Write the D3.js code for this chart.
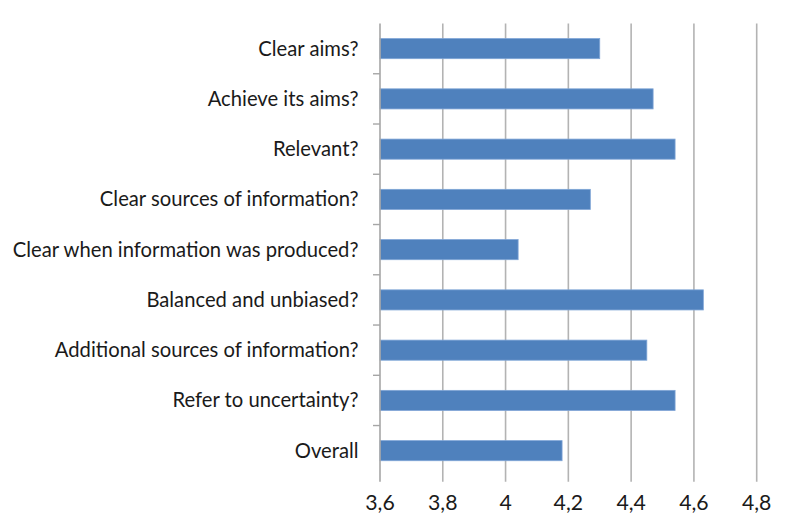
<!DOCTYPE html>
<html>
<head>
<meta charset="utf-8">
<script src="https://cdn.jsdelivr.net/npm/d3@7"></script>
<style>
  html, body { margin: 0; padding: 0; background: #fff; }
  svg { display: block; }
  text { font-family: Lato, "Open Sans", sans-serif; fill: #1a1a1a; }
</style>
</head>
<body>
<svg id="chart" width="789" height="520"></svg>
<script>
const categories = [
  "Clear aims?",
  "Achieve its aims?",
  "Relevant?",
  "Clear sources of information?",
  "Clear when information was produced?",
  "Balanced and unbiased?",
  "Additional sources of information?",
  "Refer to uncertainty?",
  "Overall"
];
const values = [4.30, 4.47, 4.54, 4.27, 4.04, 4.63, 4.45, 4.54, 4.18];
const xTicks = [3.6, 3.8, 4.0, 4.2, 4.4, 4.6, 4.8];
const xDomain = [3.6, 4.8];

(function () {
const svg = d3.select("#chart");
const pLeft = 380, pRight = 756.7, pTop = 23.5, pBottom = 475.8;

const x = d3.scaleLinear().domain(xDomain).range([pLeft, pRight]);
const y = d3.scaleBand().domain(categories).range([pTop, pBottom])
  .paddingInner(0.6).paddingOuter(0.3);

// vertical gridlines (extending below as tick marks)
svg.append("g").selectAll("line").data(xTicks.slice(1)).join("line")
  .attr("x1", d => x(d)).attr("x2", d => x(d))
  .attr("y1", pTop).attr("y2", pBottom + 6)
  .attr("stroke", "#b3b3b3").attr("stroke-width", 1.6);

// bars
svg.append("g").selectAll("rect").data(values).join("rect")
  .attr("x", x(xDomain[0]))
  .attr("y", (d, i) => y(categories[i]))
  .attr("width", d => x(d) - x(xDomain[0]))
  .attr("height", y.bandwidth())
  .attr("fill", "#4f81bd")
  .attr("stroke", "#7fa5d6").attr("stroke-width", 0.8);

// left axis line
svg.append("line")
  .attr("x1", pLeft).attr("x2", pLeft).attr("y1", pTop).attr("y2", pBottom + 6)
  .attr("stroke", "#a6a6a6").attr("stroke-width", 1.6);

// category ticks (inner boundaries)
const step = y.step();
svg.append("g").selectAll("line").data(categories.slice(1)).join("line")
  .attr("x1", pLeft - 7).attr("x2", pLeft)
  .attr("y1", d => y(d) - step * 0.3).attr("y2", d => y(d) - step * 0.3)
  .attr("stroke", "#a6a6a6").attr("stroke-width", 1.4);

// category labels
const labels = svg.append("g").selectAll("text").data(categories).join("text")
  .attr("x", 358.5)
  .attr("y", d => y(d) + y.bandwidth() / 2)
  .attr("dy", "0.35em")
  .attr("text-anchor", "end")
  .style("font-size", "17px")
  .text(d => d);

// fit widest label to ~346px
let maxW = 0;
labels.each(function() { maxW = Math.max(maxW, this.getComputedTextLength()); });
const fs = 17 * 346 / maxW;
labels.style("font-size", fs + "px");

// x tick labels
svg.append("g").selectAll("text").data(xTicks).join("text")
  .attr("x", d => x(d))
  .attr("y", 510)
  .attr("text-anchor", "middle")
  .style("font-size", (fs * 1.05) + "px")
  .text(d => d3.format(".1~f")(d).replace(".", ","));
})();
</script>
</body>
</html>
